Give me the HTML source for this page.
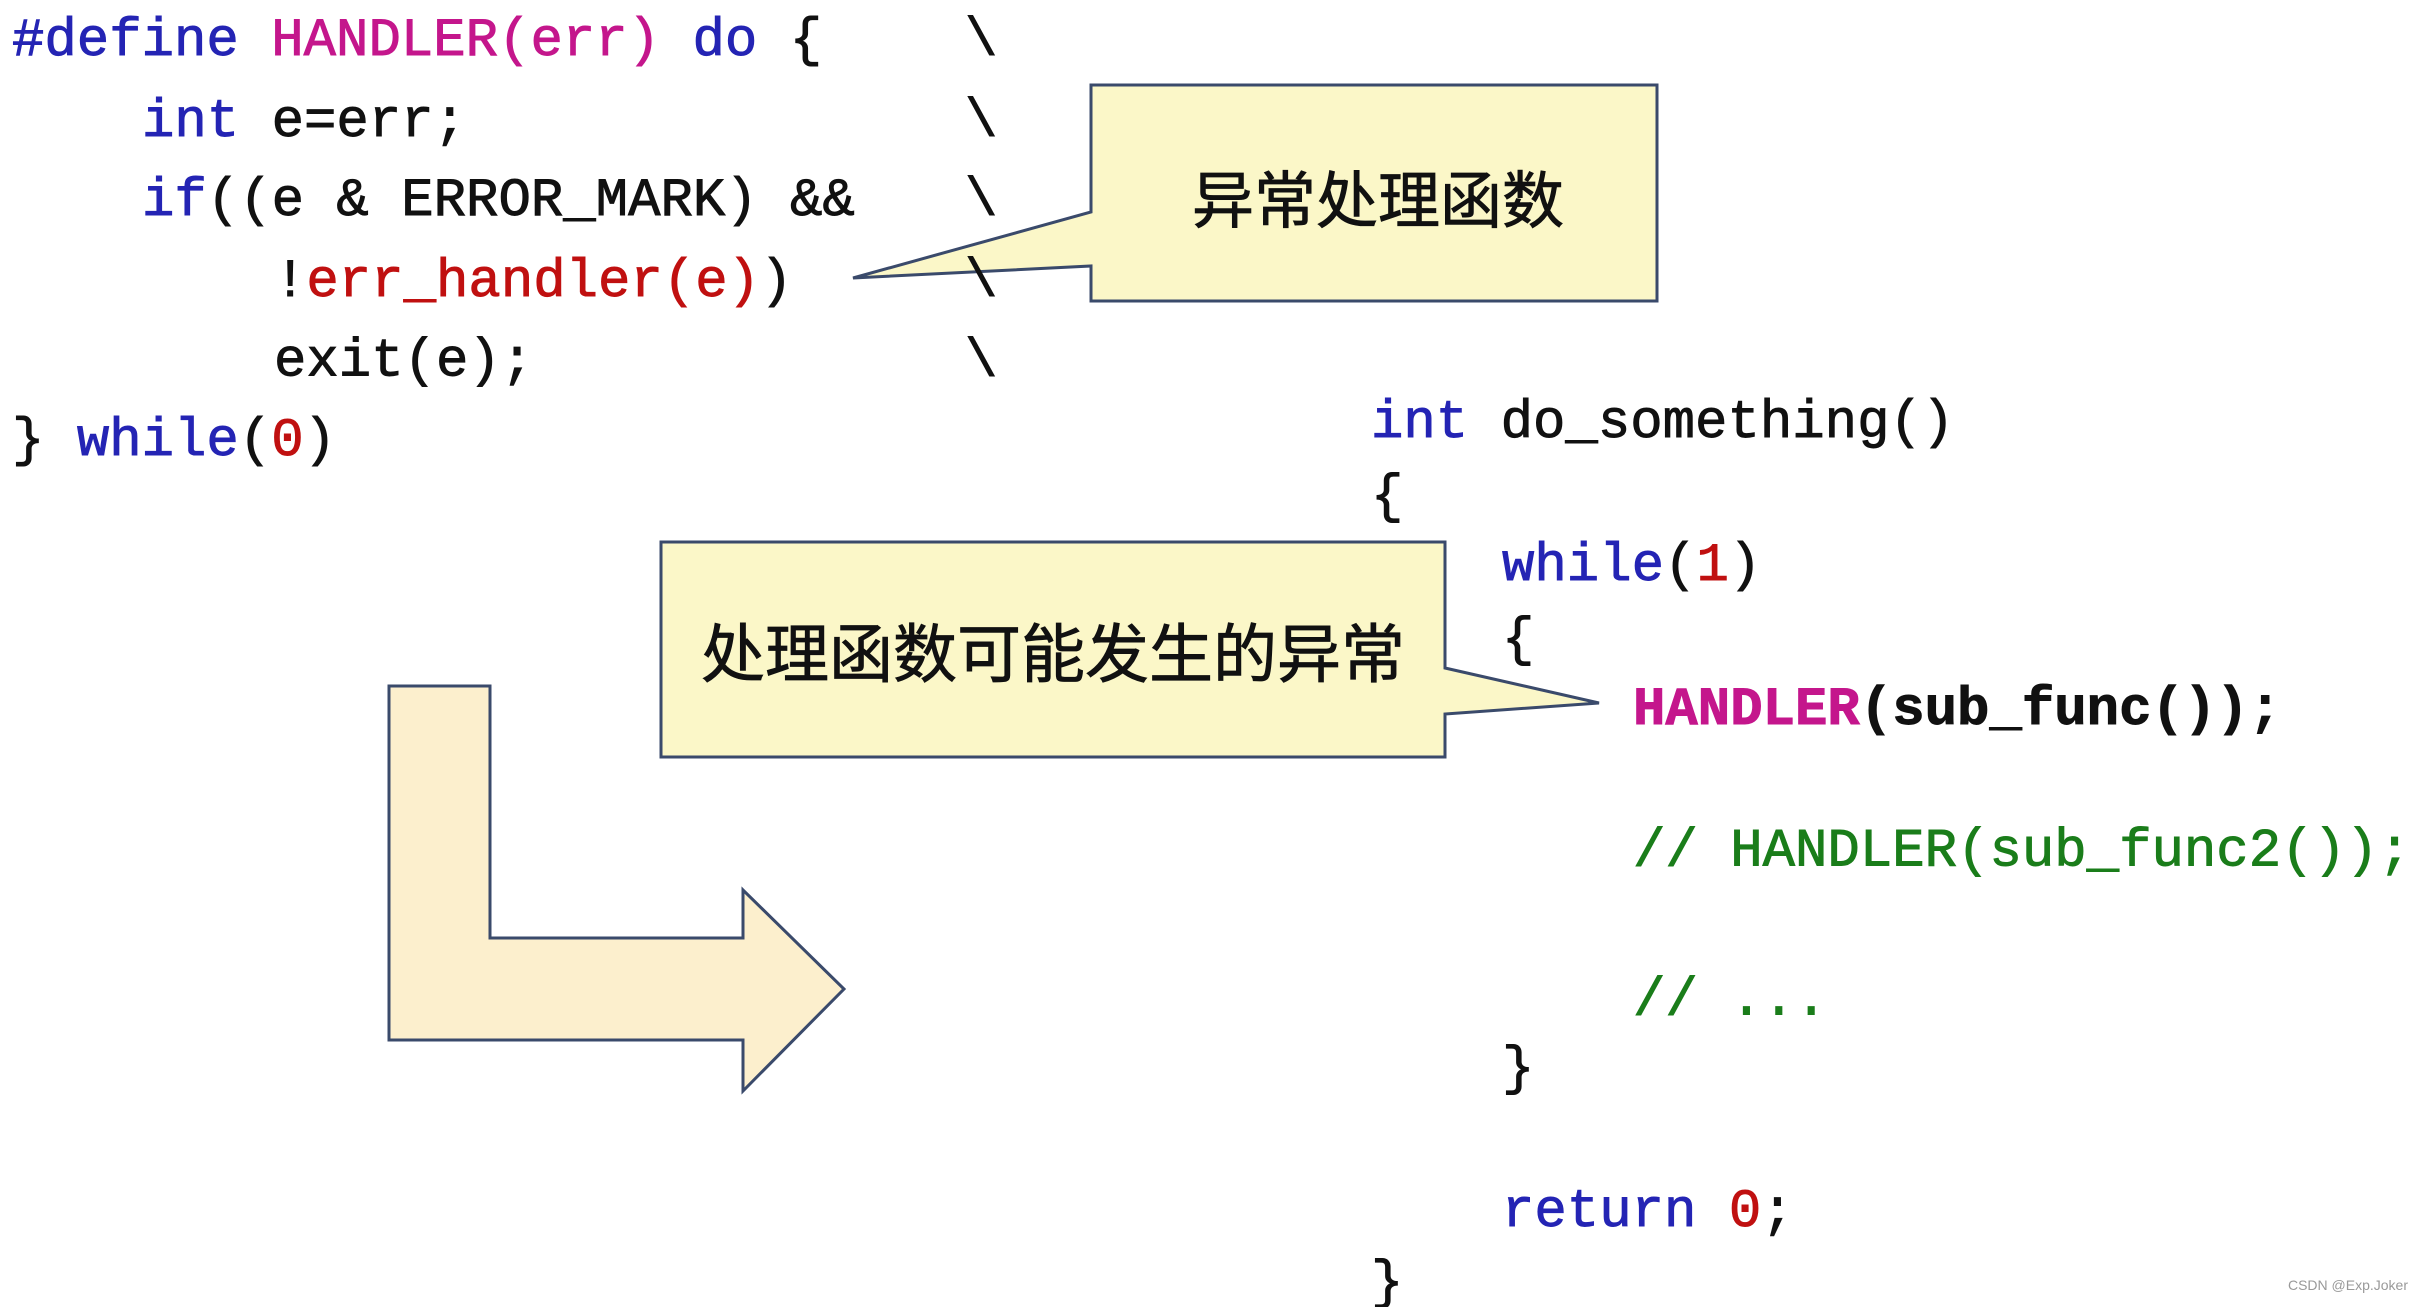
<!DOCTYPE html>
<html><head><meta charset="utf-8"><style>
html,body{margin:0;padding:0;background:#fff;}
svg{display:block;}
.c{font-family:"Liberation Mono","DejaVu Sans Mono",monospace;font-size:54px;stroke-width:0.9px;}
.k{fill:#2424b4;stroke:#2424b4}.m{fill:#c4168c;stroke:#c4168c}.r{fill:#c01010;stroke:#c01010}.g{fill:#1a7d1a;stroke:#1a7d1a}.b{fill:#111;stroke:#111}
.zh{font-family:"Liberation Sans","Noto Sans CJK SC",sans-serif;fill:#111;stroke:#111;stroke-width:0.8px;}
</style></head><body>
<svg width="2423" height="1307" viewBox="0 0 2423 1307" xmlns="http://www.w3.org/2000/svg">
<rect width="2423" height="1307" fill="#fff"/>
<path d="M1091,85 H1657 V301 H1091 V266 L853,278 L1091,212 Z" fill="#fbf7c8" stroke="#3a4a6b" stroke-width="3"/>
<text class="zh" x="1378" y="202" font-size="62" text-anchor="middle" dominant-baseline="central">异常处理函数</text>
<path d="M661,542 H1445 V668 L1599,703 L1445,714 V757 H661 Z" fill="#fbf7c8" stroke="#3a4a6b" stroke-width="3"/>
<text class="zh" x="1053" y="655" font-size="64" text-anchor="middle" dominant-baseline="central">处理函数可能发生的异常</text>
<path d="M389,686 H490 V938 H743 V890 L844,989 L743,1091 V1040 H389 Z" fill="#fcefcd" stroke="#3a4a6b" stroke-width="3"/>
<g class="c" dominant-baseline="central">
<text x="12" y="41"><tspan class="k">#define </tspan><tspan class="m">HANDLER(err) </tspan><tspan class="k">do </tspan><tspan class="b">{</tspan></text>
<text x="142" y="122"><tspan class="k">int </tspan><tspan class="b">e=err;</tspan></text>
<text x="142" y="201"><tspan class="k">if</tspan><tspan class="b">((e &amp; ERROR_MARK) &amp;&amp;</tspan></text>
<text x="274" y="282"><tspan class="b">!</tspan><tspan class="r">err_handler(e)</tspan><tspan class="b">)</tspan></text>
<text x="274" y="362" class="b">exit(e);</text>
<text x="12" y="441"><tspan class="b">} </tspan><tspan class="k">while</tspan><tspan class="b">(</tspan><tspan class="r">0</tspan><tspan class="b">)</tspan></text>
<text x="965" y="41" class="b">\</text>
<text x="965" y="122" class="b">\</text>
<text x="965" y="201" class="b">\</text>
<text x="965" y="282" class="b">\</text>
<text x="965" y="362" class="b">\</text>
<text x="1371" y="423"><tspan class="k">int </tspan><tspan class="b">do_something()</tspan></text>
<text x="1371" y="498" class="b">{</text>
<text x="1502" y="566"><tspan class="k">while</tspan><tspan class="b">(</tspan><tspan class="r">1</tspan><tspan class="b">)</tspan></text>
<text x="1502" y="641" class="b">{</text>
<text x="1633" y="710" font-weight="bold"><tspan class="m">HANDLER</tspan><tspan class="b">(sub_func());</tspan></text>
<text x="1633" y="852" class="g">// HANDLER(sub_func2());</text>
<text x="1633" y="1001" class="g">// ...</text>
<text x="1502" y="1070" class="b">}</text>
<text x="1502" y="1212"><tspan class="k">return </tspan><tspan class="r">0</tspan><tspan class="b">;</tspan></text>
<text x="1371" y="1284" class="b">}</text>
</g>
<text x="2408" y="1290" font-family="Liberation Sans,sans-serif" font-size="14" fill="#999" text-anchor="end">CSDN @Exp.Joker</text>
</svg>
</body></html>
